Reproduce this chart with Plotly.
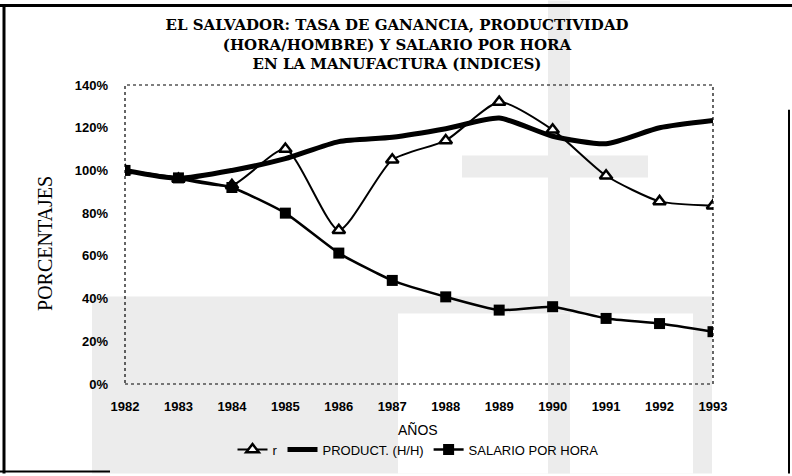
import plotly.graph_objects as go

years = [1982, 1983, 1984, 1985, 1986, 1987, 1988, 1989, 1990, 1991, 1992, 1993]
tick_labels = [str(y) for y in years]
r_vals = [100, 96, 93, 110, 72, 105, 114, 132, 119, 97.5, 85.5, 83.5]
product_vals = [100, 96.3, 100, 105.5, 113.5, 115.5, 119.5, 124.5, 116, 112.5, 120, 123.4]
salario_vals = [100, 96.5, 92, 80, 61.3, 48.5, 40.8, 34.6, 36.2, 30.7, 28.3, 24.5]
y_ticks = [0, 20, 40, 60, 80, 100, 120, 140]
y_labels = [f"{v}%" for v in y_ticks]
title_lines = ["EL SALVADOR: TASA DE GANANCIA, PRODUCTIVIDAD",
               "(HORA/HOMBRE) Y SALARIO POR HORA",
               "EN LA MANUFACTURA (INDICES)"]

# plot area in page pixels
L, R, T, B = 125, 713, 85, 386
W, H = R - L, B - T

def px(xp):
    return (xp - L) / W

def py(yp):
    return (B - yp) / H

fig = go.Figure()
fig.add_trace(go.Scatter(
    x=years, y=r_vals, name="r", mode="lines+markers",
    line=dict(color="black", width=2, shape="spline", smoothing=0.6),
    marker=dict(symbol="triangle-up", size=11, color="white", line=dict(color="black", width=2.5)),
))
fig.add_trace(go.Scatter(
    x=years, y=product_vals, name="PRODUCT. (H/H)", mode="lines",
    line=dict(color="black", width=5, shape="spline", smoothing=0.6),
))
fig.add_trace(go.Scatter(
    x=years, y=salario_vals, name="SALARIO POR HORA", mode="lines+markers",
    line=dict(color="black", width=2.5, shape="spline", smoothing=0.5),
    marker=dict(symbol="square", size=11, color="black"),
))

gray = "#ececec"

def rect(x0, x1, y0, y1, color):
    return dict(type="rect", xref="paper", yref="paper",
                x0=px(x0), x1=px(x1), y0=py(y1), y1=py(y0),
                line=dict(width=0), fillcolor=color, layer="below")

def seg(x0, y0, x1, y1, width):
    return dict(type="line", xref="paper", yref="paper",
                x0=px(x0), x1=px(x1), y0=py(y0), y1=py(y1),
                line=dict(color="black", width=width))

shapes = [
    rect(548, 570, 0, 476, gray),
    rect(462, 648, 156, 178, gray),
    rect(92, 712, 298, 476, gray),
    rect(398, 693, 315, 476, "white"),
    rect(548, 570, 315, 476, gray),
    # figure frame
    seg(4, 5, 4, 476, 3),
    seg(0, 5, 792, 5, 3),
    seg(789, 110, 789, 476, 2),
    seg(0, 474, 110, 474, 2),
    # dotted plot border
    dict(type="rect", xref="x domain", yref="y domain", x0=0, x1=1, y0=0, y1=1,
         line=dict(color="black", width=1.2, dash="dot"), fillcolor="rgba(0,0,0,0)"),
]

annotations = [
    dict(text="PORCENTAJES", xref="paper", yref="paper", x=px(45), y=py(244),
         xanchor="center", yanchor="middle", showarrow=False, textangle=-90,
         font=dict(family="Liberation Serif", size=20, color="black")),
    dict(text="AÑOS", xref="paper", yref="paper", x=px(418), y=py(432),
         xanchor="center", yanchor="middle", showarrow=False,
         font=dict(family="Liberation Sans", size=14, color="black")),
]

fig.update_layout(
    width=792, height=476,
    margin=dict(l=L, r=792 - R, t=T, b=476 - B),
    paper_bgcolor="white", plot_bgcolor="rgba(0,0,0,0)",
    title=dict(
        text="<br>".join(title_lines),
        x=397 / 792, xanchor="center", y=1 - 30 / 476, yanchor="top",
        font=dict(family="DejaVu Serif", size=15, color="black", weight="bold"),
    ),
    showlegend=True,
    legend=dict(orientation="h", x=px(418), xanchor="center", y=py(452), yanchor="middle",
                font=dict(family="Liberation Sans", size=13, color="black"),
                bgcolor="rgba(0,0,0,0)", itemwidth=30, tracegroupgap=0),
    shapes=shapes,
    annotations=annotations,
    xaxis=dict(
        range=[1982, 1993], tickvals=years, ticktext=tick_labels,
        showgrid=False, zeroline=False, showline=False, ticks="",
        ticklabelstandoff=13,
        tickfont=dict(family="Liberation Sans", size=13, color="black", weight="bold"),
    ),
    yaxis=dict(
        range=[0, 140], tickvals=y_ticks, ticktext=y_labels,
        showgrid=False, zeroline=False, showline=False, ticks="",
        ticklabelstandoff=16,
        tickfont=dict(family="Liberation Sans", size=13, color="black", weight="bold"),
    ),
)

fig.write_html("out.html", config={"displayModeBar": False})
with open("out.html", "r", encoding="utf-8") as f:
    html = f.read()
html = html.replace("<head>", "<head><style>html,body{margin:0;padding:0;}</style>", 1)
with open("out.html", "w", encoding="utf-8") as f:
    f.write(html)
